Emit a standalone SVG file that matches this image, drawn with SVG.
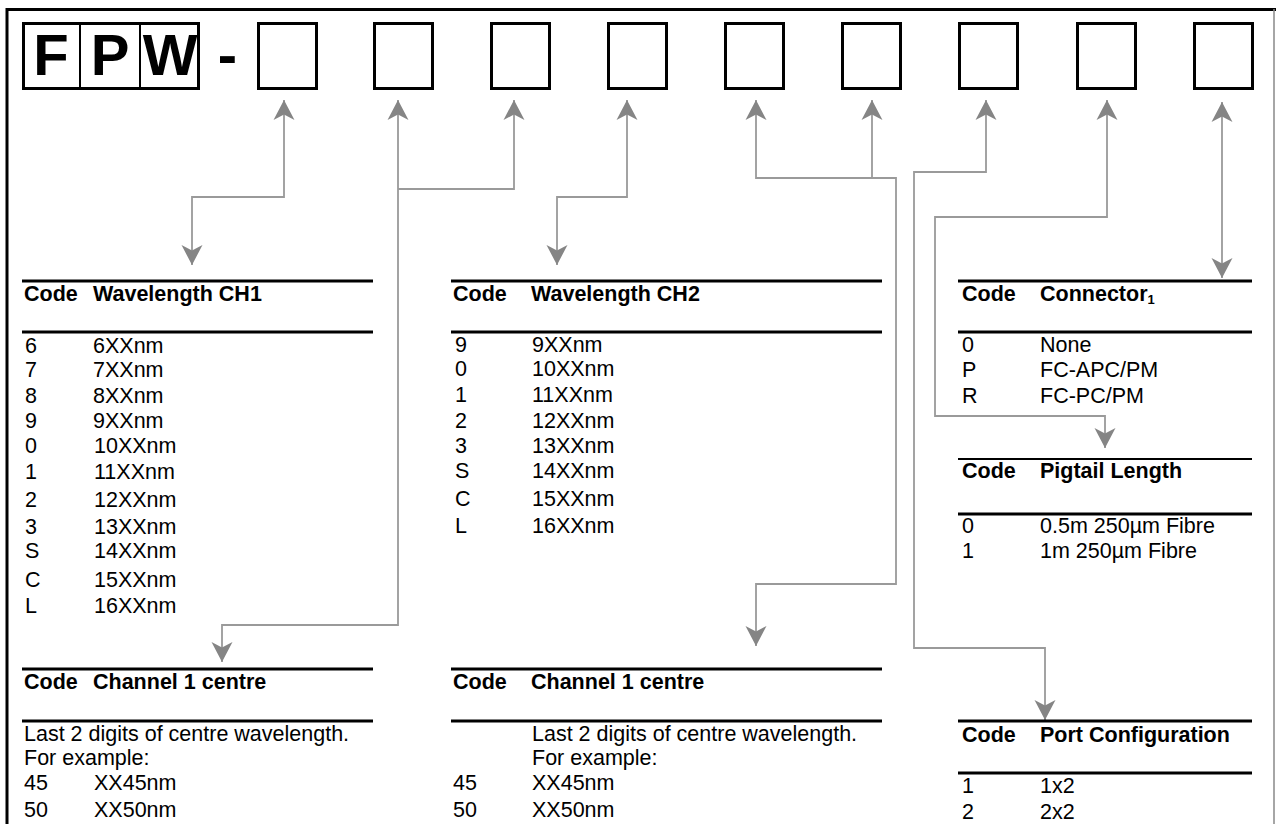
<svg xmlns="http://www.w3.org/2000/svg" width="1276" height="824" viewBox="0 0 1276 824">
<style>
text{font-family:"Liberation Sans",Arial,Helvetica,sans-serif;fill:#000}
.t{font-size:21.5px}
.h{font-size:21.5px;font-weight:bold}
.big{font-size:58px;font-weight:bold;text-anchor:middle}
.box{fill:#fff;stroke:#000;stroke-width:3}
.rule{stroke:#000;stroke-width:3}
.rule2{stroke:#000;stroke-width:2}
.con{fill:none;stroke:#9a9a9a;stroke-width:1.8}
</style>
<defs>
<marker id="ah" viewBox="-21 -11 22 22" refX="0" refY="0" markerWidth="22" markerHeight="22" markerUnits="userSpaceOnUse" orient="auto-start-reverse">
<path d="M0,0 L-20,-10.5 L-14.5,0 L-20,10.5 Z" fill="#858585"/>
</marker>
</defs>
<rect width="1276" height="824" fill="#fff"/>
<g id="frame">
<line x1="7" y1="8" x2="7" y2="824" stroke="#000" stroke-width="3"/>
<line x1="6" y1="9.5" x2="1276" y2="9.5" stroke="#000" stroke-width="3"/>
<line x1="1274" y1="9" x2="1274" y2="824" stroke="#888" stroke-width="1.5"/>
</g>
<g id="code-fpw">
<rect class="box" x="23.5" y="23.5" width="175" height="65"/>
<line x1="80" y1="23" x2="80" y2="89" stroke="#000" stroke-width="2"/>
<line x1="140" y1="23" x2="140" y2="89" stroke="#000" stroke-width="2"/>
<text class="big" x="51" y="75">F</text>
<text class="big" x="110" y="75">P</text>
<text class="big" x="170" y="75">W</text>
<text class="big" x="227.5" y="75">-</text>
</g>
<g id="slot1"><rect class="box" x="258.5" y="23.5" width="58" height="65"/></g>
<g id="slot2"><rect class="box" x="374.5" y="23.5" width="58" height="65"/></g>
<g id="slot3"><rect class="box" x="491.5" y="23.5" width="58" height="65"/></g>
<g id="slot4"><rect class="box" x="608.5" y="23.5" width="58" height="65"/></g>
<g id="slot5"><rect class="box" x="725.5" y="23.5" width="58" height="65"/></g>
<g id="slot6"><rect class="box" x="842.5" y="23.5" width="58" height="65"/></g>
<g id="slot7"><rect class="box" x="959.5" y="23.5" width="58" height="65"/></g>
<g id="slot8"><rect class="box" x="1077.5" y="23.5" width="58" height="65"/></g>
<g id="slot9"><rect class="box" x="1194.5" y="23.5" width="58" height="65"/></g>

<g id="connectors">
<path class="con" d="M284,100 V197 H192 V265" marker-start="url(#ah)" marker-end="url(#ah)"/>
<path class="con" d="M398,100 V625 H222 V662" marker-start="url(#ah)" marker-end="url(#ah)"/>
<path class="con" d="M514,100 V189 H398" marker-start="url(#ah)"/>
<path class="con" d="M627,100 V197 H557 V265" marker-start="url(#ah)" marker-end="url(#ah)"/>
<path class="con" d="M756,100 V178 H896 V584 H756 V646" marker-start="url(#ah)" marker-end="url(#ah)"/>
<path class="con" d="M872,100 V178" marker-start="url(#ah)"/>
<path class="con" d="M986,100 V172 H914 V648 H1045 V720" marker-start="url(#ah)" marker-end="url(#ah)"/>
<path class="con" d="M1107,100 V217 H935 V416 H1105 V448" marker-start="url(#ah)" marker-end="url(#ah)"/>
<path class="con" d="M1222,102 V278" marker-start="url(#ah)" marker-end="url(#ah)"/>
</g>

<g id="table-wavelength-ch1">
<line class="rule" x1="22" y1="281" x2="373" y2="281"/>
<line class="rule" x1="22" y1="332" x2="373" y2="332"/>
<text class="h" x="24" y="301">Code</text>
<text class="h" x="93" y="301">Wavelength CH1</text>
<text class="t" x="25" y="353">6</text><text class="t" x="93" y="353">6XXnm</text>
<text class="t" x="25" y="377">7</text><text class="t" x="93" y="377">7XXnm</text>
<text class="t" x="25" y="403">8</text><text class="t" x="93" y="403">8XXnm</text>
<text class="t" x="25" y="428">9</text><text class="t" x="93" y="428">9XXnm</text>
<text class="t" x="25" y="453">0</text><text class="t" x="94" y="453">10XXnm</text>
<text class="t" x="25" y="479">1</text><text class="t" x="94" y="479">11XXnm</text>
<text class="t" x="25" y="507">2</text><text class="t" x="94" y="507">12XXnm</text>
<text class="t" x="25" y="534">3</text><text class="t" x="94" y="534">13XXnm</text>
<text class="t" x="25" y="558">S</text><text class="t" x="94" y="558">14XXnm</text>
<text class="t" x="25" y="587">C</text><text class="t" x="94" y="587">15XXnm</text>
<text class="t" x="25" y="613">L</text><text class="t" x="94" y="613">16XXnm</text>
</g>

<g id="table-wavelength-ch2">
<line class="rule" x1="451" y1="281" x2="882" y2="281"/>
<line class="rule" x1="451" y1="332" x2="882" y2="332"/>
<text class="h" x="453" y="301">Code</text>
<text class="h" x="531" y="301">Wavelength CH2</text>
<text class="t" x="455" y="352">9</text><text class="t" x="532" y="352">9XXnm</text>
<text class="t" x="455" y="376">0</text><text class="t" x="532" y="376">10XXnm</text>
<text class="t" x="455" y="402">1</text><text class="t" x="532" y="402">11XXnm</text>
<text class="t" x="455" y="428">2</text><text class="t" x="532" y="428">12XXnm</text>
<text class="t" x="455" y="453">3</text><text class="t" x="532" y="453">13XXnm</text>
<text class="t" x="455" y="478">S</text><text class="t" x="532" y="478">14XXnm</text>
<text class="t" x="455" y="506">C</text><text class="t" x="532" y="506">15XXnm</text>
<text class="t" x="455" y="533">L</text><text class="t" x="532" y="533">16XXnm</text>
</g>

<g id="table-connector">
<line class="rule" x1="958" y1="281" x2="1252" y2="281"/>
<line class="rule" x1="958" y1="332" x2="1252" y2="332"/>
<text class="h" x="962" y="301">Code</text>
<text class="h" x="1040" y="301">Connector<tspan font-size="13" dy="3">1</tspan></text>
<text class="t" x="962" y="352">0</text><text class="t" x="1040" y="352">None</text>
<text class="t" x="962" y="377">P</text><text class="t" x="1040" y="377">FC-APC/PM</text>
<text class="t" x="962" y="403">R</text><text class="t" x="1040" y="403">FC-PC/PM</text>
</g>

<g id="table-pigtail">
<line class="rule2" x1="958" y1="459" x2="1252" y2="459"/>
<line class="rule" x1="958" y1="514" x2="1252" y2="514"/>
<text class="h" x="962" y="478">Code</text>
<text class="h" x="1040" y="478">Pigtail Length</text>
<text class="t" x="962" y="533">0</text><text class="t" x="1040" y="533">0.5m 250µm Fibre</text>
<text class="t" x="962" y="558">1</text><text class="t" x="1040" y="558">1m 250µm Fibre</text>
</g>

<g id="table-channel1-centre-a">
<line class="rule" x1="22" y1="669" x2="373" y2="669"/>
<line class="rule" x1="22" y1="721" x2="373" y2="721"/>
<text class="h" x="24" y="689">Code</text>
<text class="h" x="93" y="689">Channel 1 centre</text>
<text class="t" x="24" y="741">Last 2 digits of centre wavelength.</text>
<text class="t" x="24" y="765">For example:</text>
<text class="t" x="24" y="790">45</text><text class="t" x="94" y="790">XX45nm</text>
<text class="t" x="24" y="817">50</text><text class="t" x="94" y="817">XX50nm</text>
</g>

<g id="table-channel1-centre-b">
<line class="rule" x1="451" y1="669" x2="882" y2="669"/>
<line class="rule" x1="451" y1="721" x2="882" y2="721"/>
<text class="h" x="453" y="689">Code</text>
<text class="h" x="531" y="689">Channel 1 centre</text>
<text class="t" x="532" y="741">Last 2 digits of centre wavelength.</text>
<text class="t" x="532" y="765">For example:</text>
<text class="t" x="453" y="790">45</text><text class="t" x="532" y="790">XX45nm</text>
<text class="t" x="453" y="817">50</text><text class="t" x="532" y="817">XX50nm</text>
</g>

<g id="table-port-config">
<line class="rule" x1="958" y1="721" x2="1252" y2="721"/>
<line class="rule" x1="958" y1="773" x2="1252" y2="773"/>
<text class="h" x="962" y="742">Code</text>
<text class="h" x="1040" y="742">Port Configuration</text>
<text class="t" x="962" y="793">1</text><text class="t" x="1040" y="793">1x2</text>
<text class="t" x="962" y="819">2</text><text class="t" x="1040" y="819">2x2</text>
</g>
</svg>
